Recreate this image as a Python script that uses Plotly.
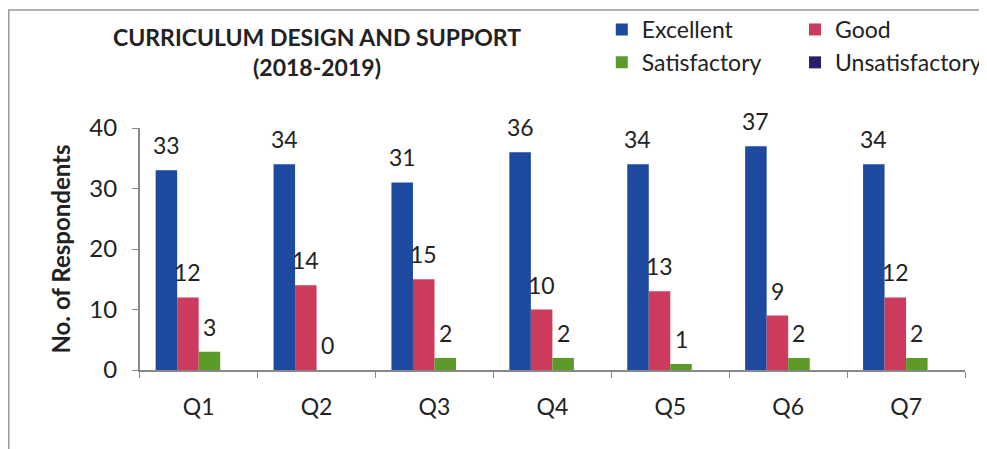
import plotly.graph_objects as go

categories = ["Q1", "Q2", "Q3", "Q4", "Q5", "Q6", "Q7"]
excellent = [33, 34, 31, 36, 34, 37, 34]
good = [12, 14, 15, 10, 13, 9, 12]
satisfactory = [3, 0, 2, 2, 1, 2, 2]
unsatisfactory = [0, 0, 0, 0, 0, 0, 0]
y_ticks = [0, 10, 20, 30, 40]

# The page body has an 8px margin, so the figure is sized to fit the window
OFF = 8
W, H = 987 - OFF, 449 - OFF
FONT = "Lato, 'Open Sans', sans-serif"


def px(x):  # page x pixel -> paper fraction
    return (x - OFF) / W


def py(y):  # page y pixel -> paper fraction
    return 1 - (y - OFF) / H


series = [
    ("Excellent", excellent, "#1d4a9f", "legend", True),
    ("Good", good, "#cc3a5c", "legend2", True),
    ("Satisfactory", satisfactory, "#5c9a2a", "legend", True),
    ("Unsatisfactory", unsatisfactory, "#2a1f6b", "legend2", False),
]

fig = go.Figure()
for name, vals, col, lg, _ in series:
    fig.add_trace(go.Bar(
        x=categories, y=vals, name=name, legend=lg, legendgroup=name,
        marker=dict(color=col, line=dict(width=0)),
    ))

# plot geometry in page pixels
x_left, x_right = 140, 967
y_zero, y_top = 370, 128
bargap = 0.27
cat_w = (x_right - x_left) / len(categories)
bar_w = cat_w * (1 - bargap) / 4

annotations = []
for i, (name, vals, col, lg, show) in enumerate(series):
    if not show:
        continue
    for c, v in zip(categories, vals):
        annotations.append(dict(
            x=c, y=v, xref="x", yref="y", text=str(v), showarrow=False,
            xshift=(i - 1.5) * bar_w, yshift=25, yanchor="middle",
            font=dict(family=FONT, size=23, color="#222"),
        ))

legend_common = dict(
    y=py(8), yanchor="top", orientation="v", tracegroupgap=1,
    traceorder="normal", font=dict(family=FONT, size=23, color="#222"),
    bgcolor="rgba(0,0,0,0)",
)

fig.update_layout(
    width=W, height=H,
    margin=dict(l=0, r=0, t=0, b=0),
    paper_bgcolor="white", plot_bgcolor="white",
    barmode="group", bargap=bargap, bargroupgap=0,
    font=dict(family=FONT, size=22, color="#222"),
    title=dict(
        text="<b>CURRICULUM DESIGN AND SUPPORT<br>(2018-2019)</b>",
        x=px(317), xanchor="center", y=py(46), yanchor="middle",
        font=dict(family=FONT, size=23, color="#222"),
    ),
    xaxis=dict(
        domain=[px(x_left), px(x_right)], automargin=False,
        showline=True, linecolor="#888", linewidth=1.5,
        ticks="outside", tickson="boundaries", ticklen=6, tickcolor="#888",
        ticklabelstandoff=16,
        tickfont=dict(family=FONT, size=23, color="#222"),
        showgrid=False,
    ),
    yaxis=dict(
        domain=[py(y_zero), py(y_top)], automargin=False,
        range=[0, 40], tickvals=y_ticks,
        showline=True, linecolor="#888", linewidth=1.5,
        ticks="outside", ticklen=6, tickcolor="#888",
        ticklabelstandoff=10,
        tickfont=dict(family=FONT, size=24, color="#222"),
        showgrid=False, zeroline=False,
        title=dict(text="<b>No. of Respondents</b>",
                   font=dict(family=FONT, size=24, color="#222"), standoff=12),
    ),
    legend=dict(x=px(603), xanchor="left", **legend_common),
    legend2=dict(x=px(797), xanchor="left", **legend_common),
    annotations=annotations,
    shapes=[dict(
        type="rect", xref="paper", yref="paper",
        x0=0.8 / W, x1=1.05, y0=-0.05, y1=py(10),
        line=dict(color="#999", width=1.5),
    )],
)

fig.write_html("out.html")
